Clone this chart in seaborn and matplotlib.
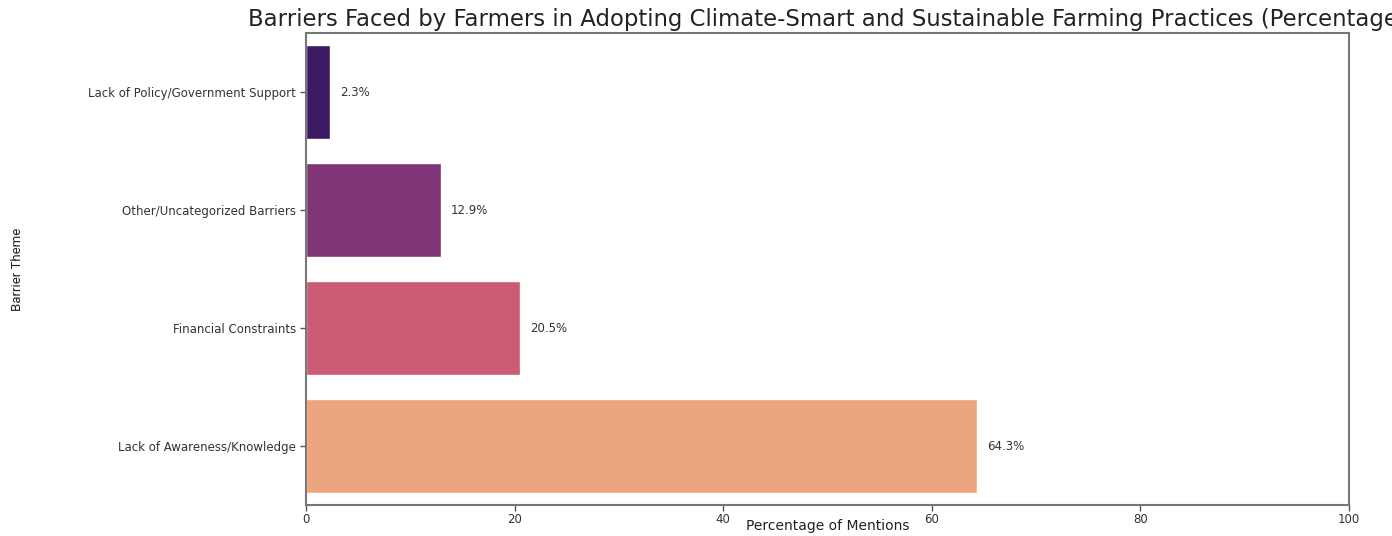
import matplotlib
matplotlib.use("Agg")
import matplotlib.pyplot as plt
import seaborn as sns
import pandas as pd

categories = ["Lack of Policy/Government Support", "Other/Uncategorized Barriers",
              "Financial Constraints", "Lack of Awareness/Knowledge"]
percentages = [2.3, 12.9, 20.5, 64.3]
x_ticks = [0, 20, 40, 60, 80, 100]
title = "Barriers Faced by Farmers in Adopting Climate-Smart and Sustainable Farming Practices (Percentage)"

sns.set_theme(style="ticks")
plt.rcParams["font.family"] = ["DejaVu Sans"]

df = pd.DataFrame({"Barrier Theme": categories, "Percentage of Mentions": percentages})

fig = plt.figure(figsize=(13.92, 5.36), dpi=100)
ax = fig.add_axes([306/1392, 31/536, (1349-306)/1392, (505-33)/536])

sns.barplot(data=df, y="Barrier Theme", x="Percentage of Mentions", hue="Barrier Theme",
            palette="magma", legend=False, ax=ax, order=categories, hue_order=categories)

for c in ax.containers:
    ax.bar_label(c, fmt="%.1f%%", padding=7.5, fontsize=8.5, color="#333333")

ax.set_xlim(0, 100)
ax.set_xticks(x_ticks)
ax.tick_params(axis="x", labelsize=8.5, colors="#555555", labelcolor="#333333", length=4, width=1, pad=1.5)
ax.tick_params(axis="y", labelsize=8.5, colors="#555555", labelcolor="#333333", length=4, width=1, pad=3)
for s in ax.spines.values():
    s.set_visible(True)
    s.set_color("#777777")
    s.set_linewidth(1.5)

xl = ax.set_xlabel("Percentage of Mentions", fontsize=10, color="#222222")
ax.xaxis.set_label_coords(0.5, (505 - 519) / 472)
ax.set_ylabel("Barrier Theme", fontsize=9.5, color="#222222",
              family=["Liberation Sans Narrow", "Roboto", "DejaVu Sans"])
ax.yaxis.set_label_coords(-0.27, 0.5)

t = ax.set_title(title, fontsize=14, color="#222222", pad=5)

# fit title size to the reference's measured width
fig.canvas.draw()
t.set_fontsize(t.get_fontsize() * 1160 / t.get_window_extent().width)

fig.savefig("out.png", dpi=100)
